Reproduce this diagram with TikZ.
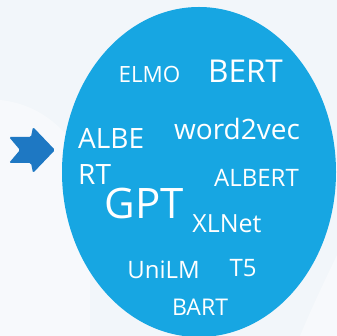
\documentclass[tikz,border=0pt]{standalone}
\usepackage{fontspec}
\setmainfont{Open Sans}
\usepackage{tikz}
\usepackage{xcolor}
\usetikzlibrary{positioning,calc}
\definecolor{Back}{HTML}{F2F6FA}
\definecolor{Cloud}{HTML}{17A6E2}
\definecolor{Pointer}{HTML}{1E78C3}
\newcommand{\fsz}[1]{\fontsize{#1}{#1}\selectfont}

\begin{document}
\begin{tikzpicture}[x=1pt,y=-1pt,every node/.style={text=white,inner sep=0pt,anchor=base}]
  \useasboundingbox (0,0) rectangle (337,336);
  \fill[Back] (0,0) rectangle (337,336);
  % faint light bands in the background
  \fill[white,opacity=0.4] (0,100) .. controls (40,104) and (70,130) .. (90,170) -- (90,336) -- (0,336) -- cycle;
  \fill[white,opacity=0.4] (300,336) .. controls (315,300) and (330,270) .. (337,255) -- (337,336) -- cycle;
  % word cloud
  \fill[Cloud] (199,172) ellipse [x radius=137, y radius=165];
  \fill[Pointer,rounded corners=1.5pt] (9,137) -- (31,137) -- (33,127) -- (55,150) -- (33,173) -- (31,163) -- (9,163) -- (20,150) -- cycle;
  \node[font=\fsz{22.4}] (elmo) at (149.5,83) {ELMO};
  \node[font=\fsz{31.5}] (bert) at (245.5,83) {BERT};
  \node[font=\fsz{28},align=left,anchor=north west] (albe) at (78,128) {ALBE\\[8pt]RT};
  \node[font=\fsz{28}] (w2v) at (237,140) {word2vec};
  \node[font=\fsz{42}] (gpt) at (144,219) {GPT};
  \node[font=\fsz{24}] (albert) at (256.5,187) {ALBERT};
  \node[font=\fsz{25}] (xlnet) at (227,233) {XLNet};
  \node[font=\fsz{24}] (unilm) at (163.5,279) {UniLM};
  \node[font=\fsz{24}] (tfive) at (243,277) {T5};
  \node[font=\fsz{23}] (bart) at (200,316) {BART};
\end{tikzpicture}
\end{document}
